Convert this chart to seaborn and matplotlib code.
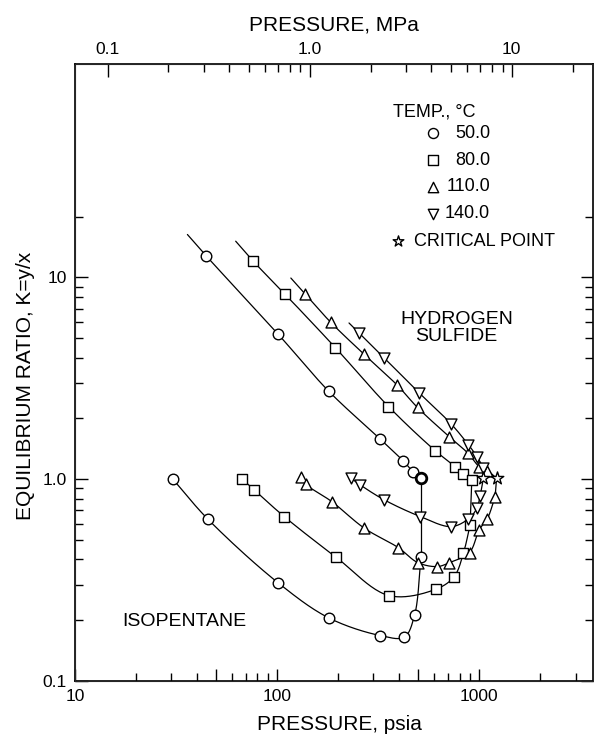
import numpy as np
import matplotlib
matplotlib.use("Agg")
import matplotlib.pyplot as plt
import seaborn as sns
from matplotlib.ticker import FixedLocator, FixedFormatter

# temperatures and markers
temps = ["50.0", "80.0", "110.0", "140.0"]
markers = ["o", "s", "^", "v"]

# isopentane branch (psia, K)
iso_p_50 = [30.5, 45.5, 101, 181, 324, 426, 479, 516]
iso_k_50 = [1.00, 0.633, 0.307, 0.205, 0.168, 0.165, 0.212, 0.413]
iso_p_80 = [67.3, 76.8, 108.6, 195, 358, 611, 752, 836, 902]
iso_k_80 = [1.00, 0.887, 0.652, 0.412, 0.265, 0.285, 0.329, 0.43, 0.593]
iso_p_110 = [131, 138.6, 186.6, 270, 398, 497, 622, 713, 896, 1000, 1099, 1200]
iso_k_110 = [1.023, 0.944, 0.774, 0.572, 0.458, 0.386, 0.369, 0.386, 0.433, 0.561, 0.638, 0.82]
iso_p_140 = [232, 257.7, 339, 511, 727, 885, 975, 1012]
iso_k_140 = [1.01, 0.937, 0.79, 0.653, 0.582, 0.636, 0.718, 0.827]

# hydrogen sulfide branch (psia, K)
h2s_p_50 = [44.5, 101, 180, 324, 422, 473]
h2s_k_50 = [12.8, 5.24, 2.73, 1.58, 1.23, 1.083]
h2s_p_80 = [76.3, 109, 194, 356, 605, 760, 836]
h2s_k_80 = [12.0, 8.29, 4.49, 2.29, 1.386, 1.155, 1.059]
h2s_p_110 = [137.6, 184.5, 268.5, 391.5, 495.5, 710, 879, 1000, 1099]
h2s_k_110 = [8.27, 5.98, 4.17, 2.935, 2.265, 1.626, 1.346, 1.155, 1.103]
h2s_p_140 = [254.6, 340, 506, 726, 885, 975, 1043]
h2s_k_140 = [5.30, 3.98, 2.67, 1.88, 1.48, 1.294, 1.134]

# where the drawn h2s lines begin (upper left ends)
h2s_start_p = [36, 62.4, 117, 227]
h2s_start_k = [16.3, 15.1, 9.92, 5.94]

# critical points (psia, K)
crit_p = [516, 920, 1220, 1050]
crit_k = [1.01, 0.992, 1.01, 1.01]

iso_p = [iso_p_50, iso_p_80, iso_p_110, iso_p_140]
iso_k = [iso_k_50, iso_k_80, iso_k_110, iso_k_140]
h2s_p = [h2s_p_50, h2s_p_80, h2s_p_110, h2s_p_140]
h2s_k = [h2s_k_50, h2s_k_80, h2s_k_110, h2s_k_140]

PSIA_PER_MPA = 145.038


def smooth(px, py, n=24):
    # centripetal catmull-rom through the points, in log space
    P = np.column_stack([np.log10(px), np.log10(py)])
    if len(P) < 3:
        return np.asarray(px), np.asarray(py)
    P = np.vstack([2 * P[0] - P[1], P, 2 * P[-1] - P[-2]])
    segs = []
    for i in range(len(P) - 3):
        p0, p1, p2, p3 = P[i:i + 4]
        d = [max(np.linalg.norm(b - a) ** 0.5, 1e-6) for a, b in ((p0, p1), (p1, p2), (p2, p3))]
        t0 = 0.0
        t1 = d[0]
        t2 = t1 + d[1]
        t3 = t2 + d[2]
        t = np.linspace(t1, t2, n, endpoint=False)[:, None]
        a1 = (t1 - t) / (t1 - t0) * p0 + (t - t0) / (t1 - t0) * p1
        a2 = (t2 - t) / (t2 - t1) * p1 + (t - t1) / (t2 - t1) * p2
        a3 = (t3 - t) / (t3 - t2) * p2 + (t - t2) / (t3 - t2) * p3
        b1 = (t2 - t) / (t2 - t0) * a1 + (t - t0) / (t2 - t0) * a2
        b2 = (t3 - t) / (t3 - t1) * a2 + (t - t1) / (t3 - t1) * a3
        segs.append((t2 - t) / (t2 - t1) * b1 + (t - t1) / (t2 - t1) * b2)
    segs.append(P[-2][None])
    C = 10 ** np.vstack(segs)
    return C[:, 0], C[:, 1]


sns.set_style("ticks")
plt.rcParams["font.family"] = ["Liberation Sans", "DejaVu Sans"]
plt.rcParams["text.color"] = "black"
plt.rcParams["axes.labelcolor"] = "black"
plt.rcParams["xtick.color"] = "black"
plt.rcParams["ytick.color"] = "black"

fig = plt.figure(figsize=(5.94, 7.36), dpi=100)
ax = fig.add_axes([75 / 594, 55 / 736, 518 / 594, 617 / 736])
ax.set_xscale("log")
ax.set_yscale("log")
xlo, xhi = 10, 3660
ax.set_xlim(xlo, xhi)
ax.set_ylim(0.1, 114)

line_kw = dict(color="black", linewidth=0.9, sort=False, estimator=None, ax=ax)
sizes = [58, 48, 62, 62]

for i in range(4):
    # isopentane branch, then straight up to the critical point
    cx, cy = smooth(iso_p[i], iso_k[i])
    sns.lineplot(x=cx, y=cy, **line_kw)
    sns.lineplot(x=[iso_p[i][-1], crit_p[i]], y=[iso_k[i][-1], crit_k[i]], **line_kw)
    # h2s branch into the critical point
    hp = [h2s_start_p[i]] + h2s_p[i] + [crit_p[i]]
    hk = [h2s_start_k[i]] + h2s_k[i] + [crit_k[i]]
    cx, cy = smooth(hp, hk)
    sns.lineplot(x=cx, y=cy, **line_kw)

    sns.scatterplot(x=iso_p[i] + h2s_p[i], y=iso_k[i] + h2s_k[i], marker=markers[i],
                    s=sizes[i], color="white", edgecolor="black", linewidth=1.0,
                    zorder=4, ax=ax, legend=False)

# 50 and 80 C end at the pure H2S vapour pressure, drawn with their own markers
sns.scatterplot(x=crit_p[:1], y=crit_k[:1], marker="o", s=58, color="white",
                edgecolor="black", linewidth=2.0, zorder=5, ax=ax, legend=False)
sns.scatterplot(x=crit_p[1:2], y=crit_k[1:2], marker="s", s=48, color="white",
                edgecolor="black", linewidth=1.0, zorder=5, ax=ax, legend=False)
sns.scatterplot(x=crit_p[2:], y=crit_k[2:], marker="*", s=90, color="white",
                edgecolor="black", linewidth=1.0, zorder=5, ax=ax, legend=False)

# axes ticks
ax.xaxis.set_major_locator(FixedLocator([10, 50, 100, 500, 1000]))
ax.xaxis.set_major_formatter(FixedFormatter(["10", "", "100", "", "1000"]))
ax.xaxis.set_minor_locator(FixedLocator([20, 30, 40, 60, 70, 80, 90, 200, 300, 400,
                                         600, 700, 800, 900, 2000, 3000]))
ax.xaxis.set_minor_formatter(FixedFormatter([]))
ax.yaxis.set_major_locator(FixedLocator([0.1, 1, 10]))
ax.yaxis.set_major_formatter(FixedFormatter(["0.1", "1.0", "10"]))
ax.yaxis.set_minor_locator(FixedLocator([0.2, 0.3, 0.4, 0.5, 0.6, 0.7, 0.8, 0.9,
                                         2, 3, 4, 5, 6, 7, 8, 9, 20]))
ax.yaxis.set_minor_formatter(FixedFormatter([]))
ax.tick_params(which="major", direction="in", length=9, width=1, top=False, right=True,
               labelsize=12.5, pad=6, colors="black")
ax.tick_params(which="minor", direction="in", length=5.5, width=1, top=False, right=True)
for s in ax.spines.values():
    s.set_linewidth(1.2)
    s.set_color("black")

ax2 = ax.twiny()
ax2.set_xscale("log")
ax2.set_xlim(xlo / PSIA_PER_MPA, xhi / PSIA_PER_MPA)
ax2.xaxis.set_major_locator(FixedLocator([0.1, 1, 10]))
ax2.xaxis.set_major_formatter(FixedFormatter(["0.1", "1.0", "10"]))
ax2.xaxis.set_minor_locator(FixedLocator([0.2, 0.3, 0.4, 0.5, 0.6, 0.7, 0.8, 0.9,
                                          2, 3, 4, 5, 6, 7, 8, 9, 20]))
ax2.xaxis.set_minor_formatter(FixedFormatter([]))
ax2.tick_params(which="major", direction="in", length=9, width=1, labelsize=12.5, pad=5,
                colors="black")
ax2.tick_params(which="minor", direction="in", length=5.5, width=1)
ax2.set_xlabel("PRESSURE, MPa", fontsize=15, labelpad=8)

ax.set_xlabel("PRESSURE, psia", fontsize=15)
ax.set_ylabel("EQUILIBRIUM RATIO, K=y/x", fontsize=15)
ax.xaxis.set_label_coords(0.51, -0.071)
ax.xaxis.label.set_va("center")
ax.yaxis.set_label_coords(-0.095, 0.478)
ax.yaxis.label.set_va("center")

# legend drawn by hand
tr = ax.transAxes
ax.text(0.6133, 0.9227, "TEMP., °C", transform=tr, fontsize=13, va="center", ha="left")
leg_y = [0.8877, 0.8444, 0.8011, 0.7569]
for m, lab, yy, sz in zip(markers, temps, leg_y, sizes):
    ax.scatter([0.6917], [yy], marker=m, s=sz * 0.9, facecolor="white", edgecolor="black",
               linewidth=1.0, transform=tr, clip_on=False, zorder=5)
    ax.text(0.8012, yy, lab, transform=tr, fontsize=13, va="center", ha="right")
ax.scatter([0.623], [0.7131], marker="*", s=65, facecolor="white", edgecolor="black",
           linewidth=1.0, transform=tr, clip_on=False, zorder=5)
ax.text(0.6544, 0.7131, "CRITICAL POINT", transform=tr, fontsize=13, va="center", ha="left")

ax.text(0.7369, 0.5724, "HYDROGEN\nSULFIDE", transform=tr, fontsize=14, va="center",
        ha="center", multialignment="center", linespacing=1.0)
ax.text(0.0921, 0.0972, "ISOPENTANE", transform=tr, fontsize=14, va="center", ha="left")

fig.savefig("out.png", dpi=100, facecolor="white")
